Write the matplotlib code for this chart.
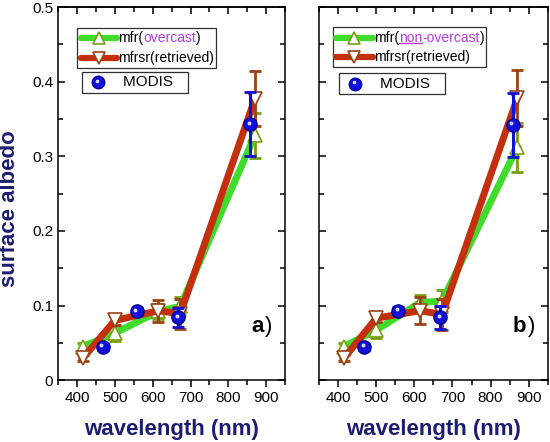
import matplotlib
matplotlib.use("Agg")
import matplotlib.pyplot as plt
from matplotlib.lines import Line2D
from matplotlib.offsetbox import AnchoredOffsetbox, DrawingArea, HPacker, TextArea, VPacker
from matplotlib.ticker import FuncFormatter, MultipleLocator
from matplotlib.transforms import offset_copy

plt.rcParams["font.family"] = ["Liberation Sans", "DejaVu Sans"]

wl_mfr = [415, 500, 615, 673, 870]
wl_modis = [469, 558, 668, 858]

# panel a (overcast)
mfr_a = [0.045, 0.063, 0.092, 0.099, 0.328]
mfr_a_err = [0.005, 0.010, 0.010, 0.012, 0.030]
mfrsr_a = [0.029, 0.080, 0.093, 0.089, 0.377]
mfrsr_a_err = [0.004, 0.006, 0.015, 0.020, 0.037]
modis_a = [0.045, 0.092, 0.084, 0.343]
modis_a_err = [0.004, 0.005, 0.013, 0.043]

# panel b (non-overcast)
mfr_b = [0.045, 0.067, 0.104, 0.106, 0.312]
mfr_b_err = [0.005, 0.010, 0.010, 0.015, 0.033]
mfrsr_b = [0.029, 0.083, 0.093, 0.088, 0.378]
mfrsr_b_err = [0.004, 0.005, 0.018, 0.021, 0.037]
modis_b = [0.045, 0.093, 0.084, 0.342]
modis_b_err = [0.004, 0.005, 0.015, 0.043]

GREEN = "#3fdc2c"
GREEN_EDGE = "#7a9e12"
RED = "#c4300e"
RED_EDGE = "#9a4212"
BLUE = "#1010d8"
PURPLE = "#b43ce0"
NAVY = "#1c1c70"
FS_TICK = 11
FS_LEG = 10

fig = plt.figure(figsize=(5.5, 4.42), dpi=100)
ax_a = fig.add_axes([0.1055, 0.140, 0.413, 0.844])
ax_b = fig.add_axes([0.580, 0.140, 0.416, 0.844])


def sphere(ax, x, y):
    ax.plot(x, y, "o", ms=9.5, color=BLUE, mec="#0000a0", zorder=6)
    hl = offset_copy(ax.transData, fig=fig, x=-1.2, y=1.2, units="points")
    ax.plot(x, y, "o", ms=2.8, color="#d8d8ff", mec="none", transform=hl, zorder=7)


def line_handle(color, marker, edge):
    da = DrawingArea(28, 12, 0, 0)
    da.add_artist(Line2D([1, 27], [6, 6], lw=4.5, color=color, solid_capstyle="round"))
    da.add_artist(Line2D([14], [6], marker=marker, ms=9, mfc="white", mec=edge, mew=1.2))
    return da


def draw_panel(ax, mfr, mfr_err, mfrsr, mfrsr_err, modis, modis_err, cond, tag, leg_pos, modis_pos):
    ax.errorbar(wl_mfr, mfr, yerr=mfr_err, fmt="none", ecolor=GREEN_EDGE,
                elinewidth=2, capsize=4, capthick=2, zorder=2)
    ax.plot(wl_mfr, mfr, "-", color=GREEN, lw=5, zorder=3)
    ax.plot(wl_mfr, mfr, "^", ms=10, mfc="white", mec=GREEN_EDGE, mew=1.2, zorder=3)
    ax.errorbar(wl_mfr, mfrsr, yerr=mfrsr_err, fmt="none", ecolor=RED_EDGE,
                elinewidth=2, capsize=4, capthick=2, zorder=4)
    ax.plot(wl_mfr, mfrsr, "-", color=RED, lw=5, zorder=4)
    ax.plot(wl_mfr, mfrsr, "v", ms=10, mfc="white", mec=RED_EDGE, mew=1.2, zorder=4)
    ax.errorbar(wl_modis, modis, yerr=modis_err, fmt="none", ecolor=BLUE,
                elinewidth=2.2, capsize=4, capthick=2, zorder=5)
    sphere(ax, wl_modis, modis)

    ax.set_xlim(350, 950)
    ax.set_ylim(0, 0.5)
    ax.xaxis.set_major_locator(MultipleLocator(100))
    ax.xaxis.set_minor_locator(MultipleLocator(50))
    ax.yaxis.set_major_locator(MultipleLocator(0.1))
    ax.yaxis.set_minor_locator(MultipleLocator(0.05))
    ax.tick_params(axis="x", which="both", direction="out", top=False, labelsize=FS_TICK, pad=3)
    ax.tick_params(axis="y", which="both", direction="in", left=True, right=True, labelsize=FS_TICK)
    ax.tick_params(which="major", length=5, width=1.1)
    ax.tick_params(which="minor", length=3.5, width=1.1)
    for s in ax.spines.values():
        s.set_linewidth(1.1)
    top = ax.secondary_xaxis("top")
    top.xaxis.set_major_locator(MultipleLocator(100))
    top.xaxis.set_minor_locator(MultipleLocator(50))
    top.tick_params(which="both", direction="in", labeltop=False, width=1.1)
    top.tick_params(which="major", length=5)
    top.tick_params(which="minor", length=3.5)
    top.spines["top"].set_linewidth(1.1)

    ax.set_xlabel("wavelength (nm)", fontsize=16, fontweight="bold", color=NAVY, labelpad=10)

    tp = dict(fontsize=FS_LEG)
    row1 = [line_handle(GREEN, "^", GREEN_EDGE), TextArea("mfr(", textprops=tp)]
    cond_area = None
    for part, colored, underline in cond:
        t = TextArea(part, textprops=dict(fontsize=FS_LEG, color=PURPLE if colored else "black"))
        row1.append(t)
        if underline:
            cond_area = t
    row1.append(TextArea(")", textprops=tp))
    row2 = [line_handle(RED, "v", RED_EDGE), TextArea("mfrsr(retrieved)", textprops=tp)]
    box = VPacker(children=[HPacker(children=row1, sep=0, align="center"),
                            HPacker(children=row2, sep=0, align="center")],
                  sep=2, align="left")
    leg = AnchoredOffsetbox(loc="upper left", child=box, pad=0.15, borderpad=0,
                            bbox_to_anchor=leg_pos, bbox_transform=ax.transAxes, frameon=True)
    leg.patch.set_boxstyle("square", pad=0)
    leg.patch.set_edgecolor("#303030")
    leg.patch.set_linewidth(0.9)
    ax.add_artist(leg)

    da = DrawingArea(26, 12, 0, 0)
    da.add_artist(Line2D([10], [6], marker="o", ms=9, color=BLUE, mec="#0000a0"))
    da.add_artist(Line2D([9.2], [6.8], marker="o", ms=2.6, color="#d8d8ff", mec="none"))
    mbox = HPacker(children=[da, TextArea("MODIS   ", textprops=dict(fontsize=FS_LEG + 1))],
                   sep=2, align="center")
    mleg = AnchoredOffsetbox(loc="upper left", child=mbox, pad=0.15, borderpad=0,
                             bbox_to_anchor=modis_pos, bbox_transform=ax.transAxes, frameon=True)
    mleg.patch.set_boxstyle("square", pad=0)
    mleg.patch.set_edgecolor("#303030")
    mleg.patch.set_linewidth(0.9)
    ax.add_artist(mleg)

    lab = HPacker(children=[TextArea(tag, textprops=dict(fontsize=16, fontweight="bold")),
                            TextArea(")", textprops=dict(fontsize=16))], sep=1, align="baseline")
    lab_box = AnchoredOffsetbox(loc="lower right", child=lab, pad=0, borderpad=0,
                                bbox_to_anchor=(0.945, 0.115), bbox_transform=ax.transAxes,
                                frameon=False)
    ax.add_artist(lab_box)
    return cond_area


draw_panel(ax_a, mfr_a, mfr_a_err, mfrsr_a, mfrsr_a_err, modis_a, modis_a_err,
           [("overcast", True, False)], "a", (0.084, 0.944), (0.106, 0.826))
under = draw_panel(ax_b, mfr_b, mfr_b_err, mfrsr_b, mfrsr_b_err, modis_b, modis_b_err,
                   [("non", True, True), ("-overcast", True, False)], "b",
                   (0.061, 0.946), (0.087, 0.823))

ax_a.yaxis.set_major_formatter(FuncFormatter(lambda v, p: "0" if v == 0 else f"{v:.1f}"))
ax_a.set_ylabel("surface albedo", fontsize=16, fontweight="bold", color=NAVY)
ax_a.yaxis.set_label_coords(-0.168, 0.46)
ax_b.tick_params(axis="y", labelleft=False)

# underline under "non"
fig.canvas.draw()
bb = under.get_window_extent(fig.canvas.get_renderer())
bbf = bb.transformed(fig.transFigure.inverted())
fig.add_artist(Line2D([bbf.x0, bbf.x1], [bbf.y0 + 0.004, bbf.y0 + 0.004],
                      transform=fig.transFigure, color=PURPLE, lw=1))

fig.savefig("out.png", dpi=100)
